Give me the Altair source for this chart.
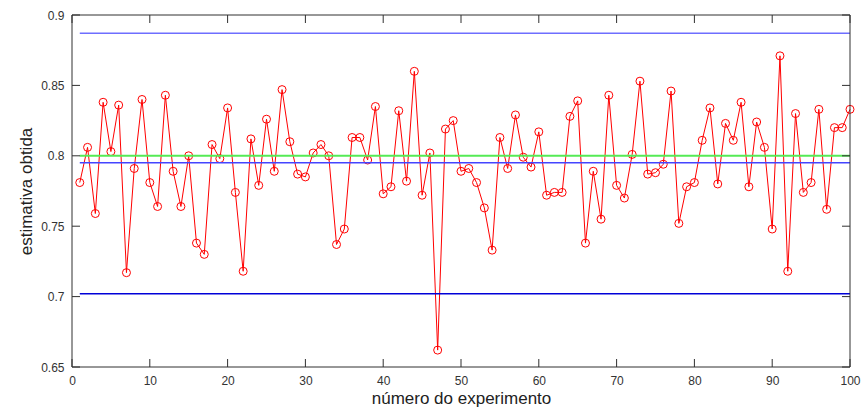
import altair as alt
import pandas as pd

# Estimates obtained in each of the 100 experiments
experimento = list(range(1, 101))
estimativa = [
    0.781, 0.806, 0.759, 0.838, 0.803, 0.836, 0.717, 0.791, 0.840, 0.781,
    0.764, 0.843, 0.789, 0.764, 0.800, 0.738, 0.730, 0.808, 0.798, 0.834,
    0.774, 0.718, 0.812, 0.779, 0.826, 0.789, 0.847, 0.810, 0.787, 0.785,
    0.802, 0.808, 0.800, 0.737, 0.748, 0.813, 0.813, 0.797, 0.835, 0.773,
    0.778, 0.832, 0.782, 0.860, 0.772, 0.802, 0.662, 0.819, 0.825, 0.789,
    0.791, 0.781, 0.763, 0.733, 0.813, 0.791, 0.829, 0.799, 0.792, 0.817,
    0.772, 0.774, 0.774, 0.828, 0.839, 0.738, 0.789, 0.755, 0.843, 0.779,
    0.770, 0.801, 0.853, 0.787, 0.788, 0.794, 0.846, 0.752, 0.778, 0.781,
    0.811, 0.834, 0.780, 0.823, 0.811, 0.838, 0.778, 0.824, 0.806, 0.748,
    0.871, 0.718, 0.830, 0.774, 0.781, 0.833, 0.762, 0.820, 0.820, 0.833,
]

# Horizontal reference levels
ref_nomes = ["limite superior", "valor real", "média", "limite inferior"]
ref_valores = [0.887, 0.800, 0.795, 0.702]
ref_cores = ["#6e6eff", "#55ea55", "#4444ff", "#0000d8"]
ref_larguras = [1.5, 2.0, 1.5, 1.5]
ref_inicio = 1
ref_fim = 100

x_ticks = list(range(0, 101, 10))
y_ticks = [0.65, 0.7, 0.75, 0.8, 0.85, 0.9]
x_lim = [0, 100]
y_lim = [0.65, 0.9]

W, H = 778, 352
TICK = 8
FONT = "Liberation Sans"
TXT = "#333333"
AX = "#303030"

# Tick length expressed in data units of each axis
tick_dx = TICK / W * (x_lim[1] - x_lim[0])
tick_dy = TICK / H * (y_lim[1] - y_lim[0])

dados = pd.DataFrame({"experimento": experimento, "estimativa": estimativa})
refs = pd.DataFrame({
    "nome": ref_nomes,
    "valor": ref_valores,
    "largura": ref_larguras,
    "x0": [ref_inicio] * len(ref_nomes),
    "x1": [ref_fim] * len(ref_nomes),
})

# Inward ticks: bottom and top edges for x, left and right edges for y
xt = pd.DataFrame({
    "v": x_ticks * 2,
    "a": [y_lim[0]] * len(x_ticks) + [y_lim[1]] * len(x_ticks),
    "b": [y_lim[0] + tick_dy] * len(x_ticks) + [y_lim[1] - tick_dy] * len(x_ticks),
})
yt = pd.DataFrame({
    "v": y_ticks * 2,
    "a": [x_lim[0]] * len(y_ticks) + [x_lim[1]] * len(y_ticks),
    "b": [x_lim[0] + tick_dx] * len(y_ticks) + [x_lim[1] - tick_dx] * len(y_ticks),
})
hbox = pd.DataFrame({"y": y_lim, "x0": [x_lim[0]] * 2, "x1": [x_lim[1]] * 2})
vbox = pd.DataFrame({"x": x_lim, "y0": [y_lim[0]] * 2, "y1": [y_lim[1]] * 2})

x_scale = alt.Scale(domain=x_lim, nice=False, zero=False)
y_scale = alt.Scale(domain=y_lim, nice=False, zero=False)

# The same axis definitions are used by every layer so they merge cleanly
x_lab = alt.Axis(
    orient="bottom", values=x_ticks, ticks=False, domain=False, grid=False,
    labelFlush=False, labelPadding=8, labelFontSize=12, labelColor=TXT,
    labelFont=FONT,
    title="número do experimento", titleFontSize=17, titleFont=FONT,
    titleFontWeight="normal", titleColor="#222222", titlePadding=4,
)
y_lab = alt.Axis(
    orient="left", values=y_ticks, ticks=False, domain=False, grid=False,
    labelFlush=False, labelPadding=8, labelFontSize=12, labelColor=TXT,
    labelFont=FONT, labelExpr="format(datum.value, '.2~f')",
    title="estimativa obtida", titleFontSize=17, titleFont=FONT,
    titleFontWeight="normal", titleColor="#222222", titlePadding=5,
)


def X(field):
    return alt.X(field, type="quantitative", scale=x_scale, axis=x_lab)


def Y(field):
    return alt.Y(field, type="quantitative", scale=y_scale, axis=y_lab)


# Data series: red line with open circle markers
serie = alt.Chart(dados).mark_line(
    color="#ff0000", strokeWidth=1,
    point=alt.OverlayMarkDef(shape="circle", filled=False, fill=None,
                             color="#ff0000", strokeWidth=1, size=64),
).encode(x=X("experimento"), y=Y("estimativa"))

# Reference levels
linhas = alt.Chart(refs).mark_rule().encode(
    x=X("x0"), x2="x1:Q", y=Y("valor"),
    color=alt.Color("nome:N", scale=alt.Scale(domain=ref_nomes, range=ref_cores),
                    legend=None),
    strokeWidth=alt.StrokeWidth("largura:Q", scale=None, legend=None),
)

# Box around the plot area
borda_h = alt.Chart(hbox).mark_rule(color=AX, strokeWidth=1).encode(
    x=X("x0"), x2="x1:Q", y=Y("y"),
)
borda_v = alt.Chart(vbox).mark_rule(color=AX, strokeWidth=1).encode(
    x=X("x"), y=Y("y0"), y2="y1:Q",
)

# Inward tick marks
marcas_x = alt.Chart(xt).mark_rule(color=AX, strokeWidth=1).encode(
    x=X("v"), y=Y("a"), y2="b:Q",
)
marcas_y = alt.Chart(yt).mark_rule(color=AX, strokeWidth=1).encode(
    y=Y("v"), x=X("a"), x2="b:Q",
)

chart = alt.layer(
    serie, linhas, borda_h, borda_v, marcas_x, marcas_y
).properties(
    width=W, height=H,
    padding={"left": 72, "top": 15, "right": 12, "bottom": 44},
    autosize=alt.AutoSizeParams(type="none"),
    background="white",
).configure_view(
    strokeWidth=0,
)

chart.save("out.html", embed_options={"renderer": "svg", "actions": False})
